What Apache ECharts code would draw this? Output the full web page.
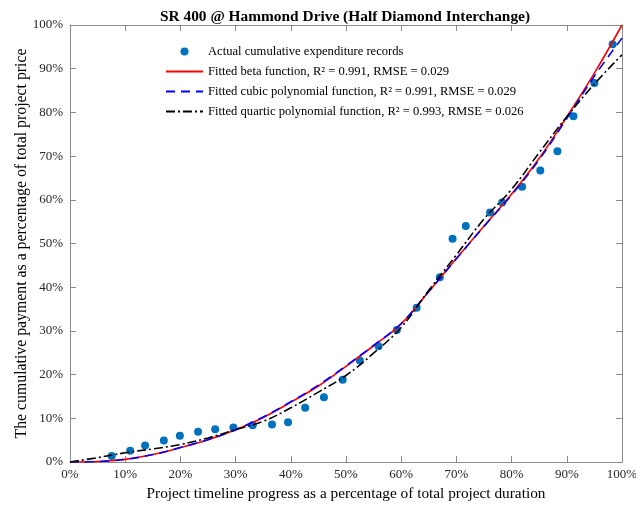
<!DOCTYPE html>
<html>
<head>
<meta charset="utf-8">
<script src="https://cdn.jsdelivr.net/npm/echarts@6/dist/echarts.min.js"></script>
<style>
  html, body { margin: 0; padding: 0; background: #fff; }
  #chart { width: 636px; height: 508px; }
</style>
</head>
<body>
<div id="chart"></div>
<script>
// Recorded cumulative expenditure (% of duration, % of price)
const recordX = [7.55, 10.9, 13.6, 17.0, 19.9, 23.2, 26.3, 29.6, 33.1, 36.6, 39.5, 42.6, 46.0, 49.4, 52.5,
                 55.9, 59.2, 62.8, 67.0, 69.3, 71.7, 76.1, 78.3, 81.9, 85.2, 88.3, 91.2, 95.0, 98.3];
const recordY = [1.4, 2.6, 3.8, 4.9, 6.0, 6.9, 7.5, 7.9, 8.4, 8.6, 9.1, 12.4, 14.8, 18.8, 23.2,
                 26.5, 30.2, 35.3, 42.3, 51.1, 54.0, 57.1, 59.4, 63.0, 66.7, 71.1, 79.1, 86.7, 95.6];

// Fitted curves sampled every 5% of the timeline
const curveX = [0, 5, 10, 15, 20, 25, 30, 35, 40, 45, 50, 55, 60, 65, 70, 75, 80, 85, 90, 95, 100];
const betaY    = [0, 0.1, 0.6, 1.7, 3.3, 5.1, 7.4, 10.2, 13.7, 17.4, 21.9, 26.6, 31.6, 39.0, 46.6, 54.0, 61.3, 69.5, 79.0, 89.0, 100];
const cubicY   = [0, 0.1, 0.6, 1.7, 3.3, 5.1, 7.4, 10.3, 13.8, 17.6, 22.0, 26.7, 31.7, 39.0, 46.5, 53.9, 61.1, 69.2, 78.6, 88.3, 97.0];
const quarticY = [0, 1.0, 2.1, 3.0, 4.0, 5.5, 7.4, 9.3, 12.4, 16.0, 19.8, 24.9, 30.8, 39.3, 47.4, 55.6, 62.4, 70.8, 79.0, 86.5, 93.2];

const titleText = 'SR 400 @ Hammond Drive (Half Diamond Interchange)';
const xName = 'Project timeline progress as a percentage of total project duration';
const yName = 'The cumulative payment as a percentage of total project price';
const seriesNames = [
  'Actual cumulative expenditure records',
  'Fitted beta function, R\u00B2 = 0.991, RMSE = 0.029',
  'Fitted cubic polynomial function, R\u00B2 = 0.991, RMSE = 0.029',
  'Fitted quartic polynomial function, R\u00B2 = 0.993, RMSE = 0.026'
];

const pairs = (xs, ys) => xs.map((x, i) => [x, ys[i]]);

const serif = 'Liberation Serif';
const axisGray = '#8a8a8a';
const labelColor = '#262626';

function frameAxis(position, withLabels, isX) {
  return {
    type: 'value',
    position: position,
    min: 0,
    max: 100,
    interval: 10,
    axisLine: { show: true, onZero: false, lineStyle: { color: axisGray, width: 1 } },
    axisTick: { show: true, inside: true, length: 6, lineStyle: { color: axisGray } },
    splitLine: { show: false },
    axisLabel: {
      show: withLabels,
      formatter: '{value}%',
      fontFamily: serif,
      fontSize: 13,
      color: labelColor,
      margin: isX ? 6 : 7
    }
  };
}

const xMain = frameAxis('bottom', true, true);
xMain.name = xName;
xMain.nameLocation = 'middle';
xMain.nameGap = 24;
xMain.nameTextStyle = { fontFamily: serif, fontSize: 15.3, color: '#000' };

const yMain = frameAxis('left', true, false);
yMain.name = yName;
yMain.nameLocation = 'middle';
yMain.nameGap = 40;
yMain.nameMoveOverlap = false;
yMain.nameTextStyle = { fontFamily: serif, fontSize: 15.8, color: '#000' };

// Line entries show only their stroke in the legend
const hiddenSymbol = { opacity: 0 };
const legendData = [
  { name: seriesNames[0] },
  { name: seriesNames[1], itemStyle: hiddenSymbol },
  { name: seriesNames[2], itemStyle: hiddenSymbol },
  { name: seriesNames[3], itemStyle: hiddenSymbol }
];

const option = {
  animation: false,
  backgroundColor: '#fff',
  title: {
    text: titleText,
    left: 340,
    textAlign: 'center',
    top: 5,
    textStyle: { fontFamily: serif, fontSize: 15.4, fontWeight: 'bold', color: '#000' }
  },
  grid: { left: 70, right: 14, top: 25, bottom: 46, outerBoundsMode: 'none' },
  legend: {
    orient: 'vertical',
    left: 160,
    top: 40,
    itemWidth: 37,
    itemHeight: 8,
    itemGap: 7,
    textStyle: { fontFamily: serif, fontSize: 12.6, color: '#000' },
    data: legendData
  },
  xAxis: [xMain, frameAxis('top', false, true)],
  yAxis: [yMain, frameAxis('right', false, false)],
  series: [
    {
      name: seriesNames[0],
      type: 'scatter',
      xAxisIndex: 0, yAxisIndex: 0,
      symbol: 'circle',
      symbolSize: 8,
      itemStyle: { color: '#0072BD', opacity: 1 },
      data: pairs(recordX, recordY)
    },
    {
      name: seriesNames[1],
      type: 'line',
      xAxisIndex: 0, yAxisIndex: 0,
      smooth: 0.4,
      showSymbol: false,
      symbol: 'none',
      lineStyle: { color: '#ff0000', width: 1.6, type: 'solid' },
      itemStyle: { color: '#ff0000' },
      data: pairs(curveX, betaY)
    },
    {
      name: seriesNames[2],
      type: 'line',
      xAxisIndex: 0, yAxisIndex: 0,
      smooth: 0.4,
      showSymbol: false,
      symbol: 'none',
      lineStyle: { color: '#0000ff', width: 1.6, type: [9, 6] },
      itemStyle: { color: '#0000ff' },
      data: pairs(curveX, cubicY)
    },
    {
      name: seriesNames[3],
      type: 'line',
      xAxisIndex: 0, yAxisIndex: 0,
      smooth: 0.4,
      showSymbol: false,
      symbol: 'none',
      lineStyle: { color: '#000000', width: 1.6, type: [9, 3, 2, 3] },
      itemStyle: { color: '#000000' },
      data: pairs(curveX, quarticY)
    }
  ]
};

const chart = echarts.init(document.getElementById('chart'), null, { renderer: 'canvas' });
chart.setOption(option);
</script>
</body>
</html>
